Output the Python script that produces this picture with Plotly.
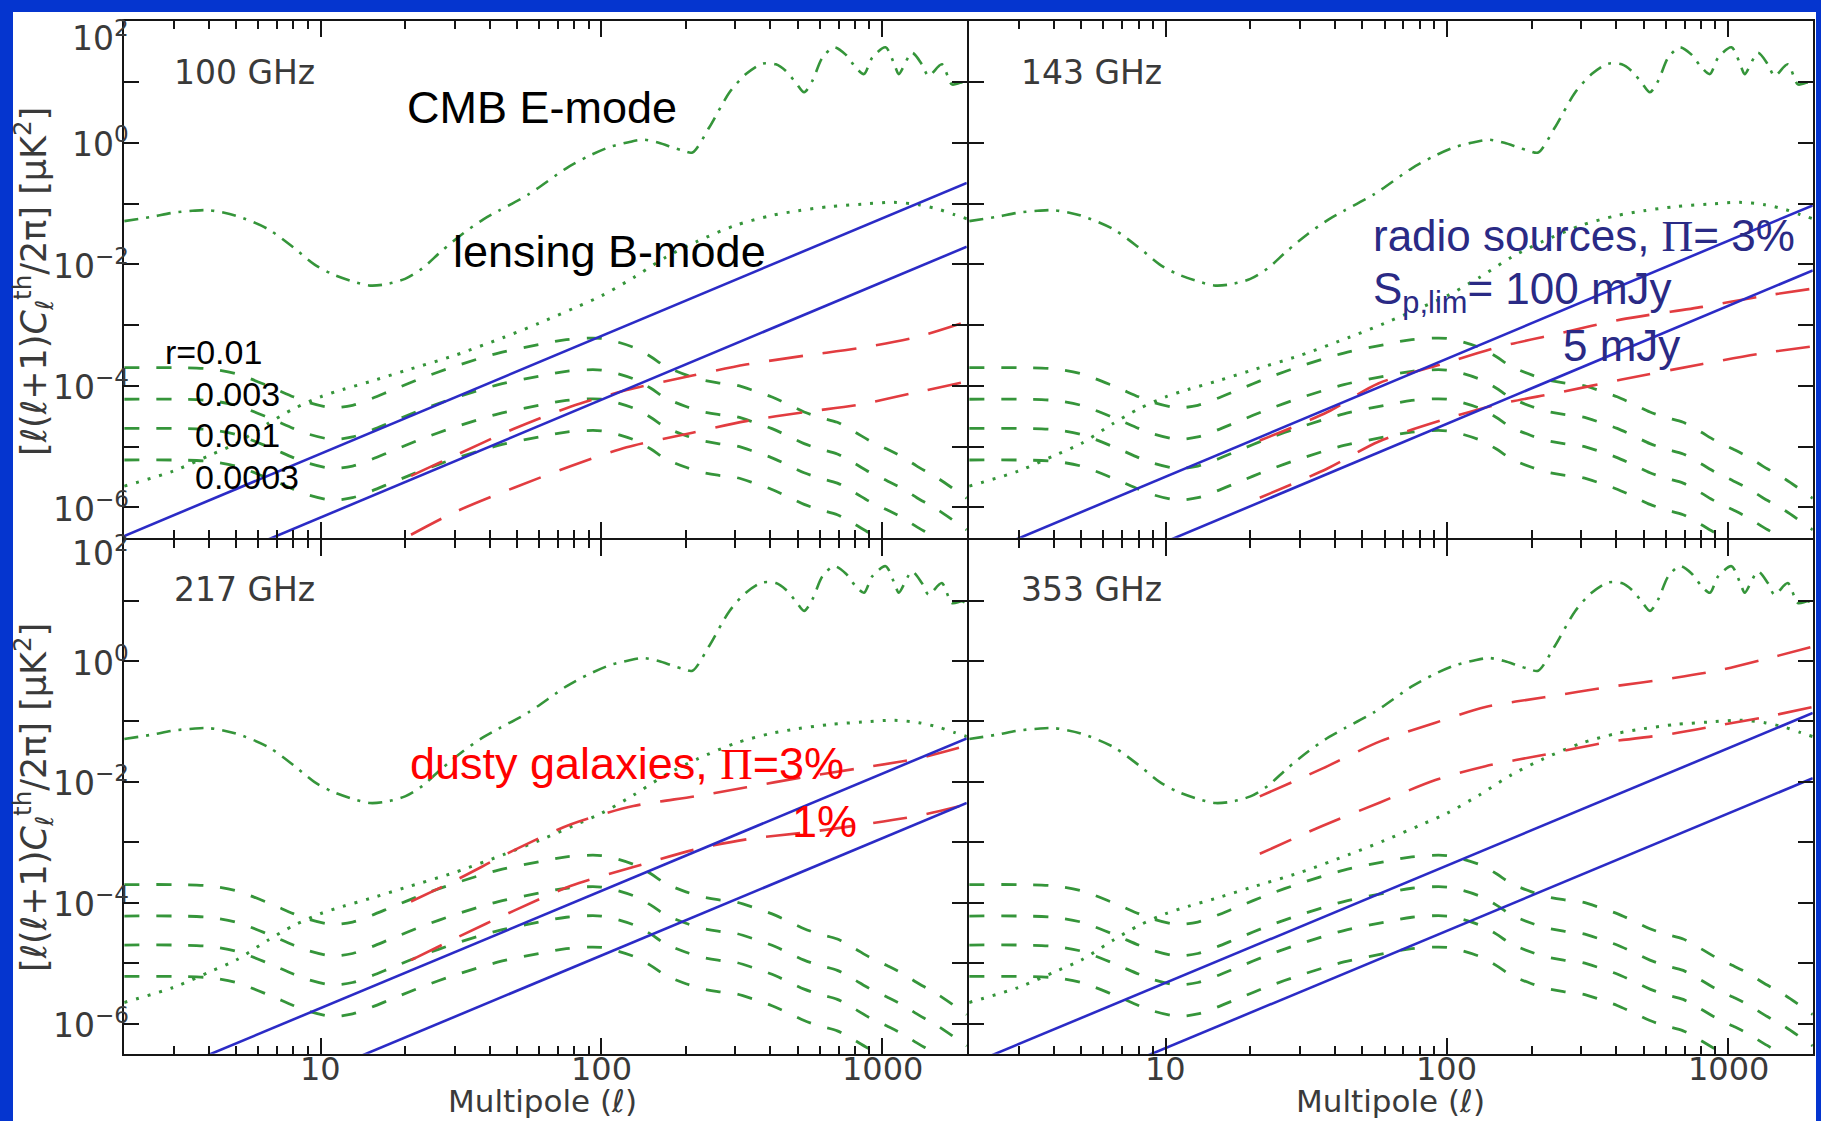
import math
import plotly.graph_objects as go

W, H = 1821, 1121

# ---------------- data (log10 of l(l+1)C_l/2pi in uK^2) ----------------
ell_E = [2, 2.5, 3, 3.5, 4, 5, 6.5, 8, 9.5, 11, 13, 15, 17, 20, 23, 27, 32, 38, 43, 55, 75, 90,
         107, 125, 141, 160, 180, 195, 211, 242, 286, 327, 374, 418, 454, 492, 527, 564, 612, 674,
         741, 804, 861, 921, 1028, 1114, 1145, 1276, 1384, 1462, 1630, 1770, 1919, 2000]
log_E = [-1.29, -1.22, -1.15, -1.12, -1.11, -1.20, -1.42, -1.72, -2.00, -2.16, -2.28, -2.35, -2.33,
         -2.24, -2.07, -1.78, -1.50, -1.26, -1.12, -0.85, -0.42, -0.22, -0.07, 0.01, 0.05, 0.00,
         -0.08, -0.13, -0.16, 0.25, 0.83, 1.13, 1.30, 1.29, 1.18, 0.99, 0.83, 1.02, 1.40, 1.57,
         1.45, 1.24, 1.13, 1.40, 1.57, 1.24, 1.13, 1.48, 1.29, 1.10, 1.29, 0.96, 0.99, 0.95]

ell_lens = [2, 3, 4, 5, 6.5, 8, 10, 12, 15, 20, 30, 45, 60, 80, 100, 130, 170, 220, 300, 400, 500,
            650, 850, 1100, 1350, 1600, 1800, 2000]
log_lens = [-5.65, -5.40, -5.15, -4.95, -4.62, -4.38, -4.18, -4.06, -3.93, -3.75, -3.50, -3.20,
            -2.97, -2.72, -2.52, -2.22, -1.88, -1.62, -1.36, -1.20, -1.12, -1.05, -1.01, -0.98,
            -1.02, -1.10, -1.18, -1.25]

ell_B = [2, 3, 4, 5, 6.5, 8, 9, 11, 13, 15, 18, 23, 30, 43, 60, 75, 100, 131, 150, 169, 200, 227,
         260, 303, 350, 403, 460, 527, 600, 692, 800, 900, 1040, 1180, 1328, 1460, 1603, 1800, 2000]
log_B_r0p01 = [-3.70, -3.70, -3.72, -3.80, -4.00, -4.18, -4.27, -4.36, -4.32, -4.22, -4.07, -3.87,
               -3.68, -3.46, -3.32, -3.24, -3.22, -3.37, -3.52, -3.68, -3.82, -3.90, -3.95, -3.99,
               -4.08, -4.18, -4.30, -4.43, -4.52, -4.60, -4.76, -4.90, -5.04, -5.17, -5.32, -5.43,
               -5.54, -5.70, -5.85]
log_B_r0p003 = [-4.22, -4.22, -4.24, -4.32, -4.52, -4.70, -4.79, -4.88, -4.84, -4.74, -4.59, -4.39,
                -4.20, -3.98, -3.84, -3.76, -3.74, -3.89, -4.04, -4.20, -4.34, -4.42, -4.47, -4.51,
                -4.60, -4.70, -4.82, -4.95, -5.04, -5.12, -5.28, -5.42, -5.56, -5.69, -5.84, -5.95,
                -6.06, -6.22, -6.37]
log_B_r0p001 = [-4.70, -4.70, -4.72, -4.80, -5.00, -5.18, -5.27, -5.36, -5.32, -5.22, -5.07, -4.87,
                -4.68, -4.46, -4.32, -4.24, -4.22, -4.37, -4.52, -4.68, -4.82, -4.90, -4.95, -4.99,
                -5.08, -5.18, -5.30, -5.43, -5.52, -5.60, -5.76, -5.90, -6.04, -6.17, -6.32, -6.43,
                -6.54, -6.70, -6.85]
log_B_r0p0003 = [-5.22, -5.22, -5.24, -5.32, -5.52, -5.70, -5.79, -5.88, -5.84, -5.74, -5.59, -5.39,
                 -5.20, -4.98, -4.84, -4.76, -4.74, -4.89, -5.04, -5.20, -5.34, -5.42, -5.47, -5.51,
                 -5.60, -5.70, -5.82, -5.95, -6.04, -6.12, -6.28, -6.42, -6.56, -6.69, -6.84, -6.95,
                 -7.06, -7.22, -7.37]

# radio sources (Poisson, straight lines): values at l = 2 and l = 2000
ell_radio = [2, 2000]
radio_100 = {"100mJy": [-6.47, -0.66], "5mJy": [-7.52, -1.71]}
radio_143 = {"100mJy": [-6.85, -1.03], "5mJy": [-7.92, -2.10]}
radio_217 = {"100mJy": [-7.10, -1.28], "5mJy": [-8.17, -2.35]}
radio_353 = {"100mJy": [-6.68, -0.86], "5mJy": [-7.76, -1.94]}

# dusty galaxies (Pi = 3% and 1%)
ell_dust_100 = [21, 30, 48.6, 78, 123, 211, 327, 535, 826, 1313, 2000]
dust_100 = {"3%": [-5.48, -5.15, -4.71, -4.34, -4.07, -3.83, -3.65, -3.50, -3.38, -3.20, -2.94],
            "1%": [-6.45, -6.08, -5.68, -5.32, -5.01, -4.77, -4.58, -4.43, -4.31, -4.11, -3.93]}
ell_dust_143 = [21.6, 37.6, 57, 95, 150, 250, 414, 811, 1300, 2000]
dust_143 = {"3%": [-4.90, -4.43, -3.96, -3.65, -3.37, -3.14, -2.91, -2.70, -2.53, -2.40],
            "1%": [-5.84, -5.36, -4.92, -4.57, -4.31, -4.11, -3.90, -3.64, -3.47, -3.35]}
ell_dust_217 = [21, 30.5, 48.9, 78, 130, 215, 329, 526, 815, 1344, 2000]
dust_217 = {"3%": [-3.98, -3.62, -3.13, -2.70, -2.40, -2.24, -2.09, -1.92, -1.78, -1.61, -1.40],
            "1%": [-4.95, -4.58, -4.13, -3.72, -3.41, -3.12, -2.95, -2.84, -2.72, -2.56, -2.37]}
ell_dust_353 = [21.6, 36, 57.8, 91, 137, 222, 376, 640, 937, 1374, 2000]
dust_353 = {"3%": [-2.24, -1.78, -1.33, -1.02, -0.76, -0.60, -0.43, -0.28, -0.15, 0.04, 0.24],
            "1%": [-3.19, -2.73, -2.34, -1.97, -1.74, -1.55, -1.34, -1.20, -1.06, -0.92, -0.76]}

panel_labels = ["100 GHz", "143 GHz", "217 GHz", "353 GHz"]
y_tick_vals = [1e-6, 1e-4, 1e-2, 1e0, 1e2]
y_tick_text = ["10<sup>−6</sup>", "10<sup>−4</sup>", "10<sup>−2</sup>", "10<sup>0</sup>", "10<sup>2</sup>"]
y_minor_vals = [1e-5, 1e-3, 1e-1, 1e1]
x_tick_vals = [10, 100, 1000]
x_tick_text = ["10", "100", "1000"]
x_minor_vals = [2, 3, 4, 5, 6, 7, 8, 9, 20, 30, 40, 50, 60, 70, 80, 90,
                200, 300, 400, 500, 600, 700, 800, 900, 2000]

# ---------------- styling ----------------
GREEN = "#35953a"
RED = "#e23c40"
BLUE = "#2b2bc6"
AX = "#151515"
TXT = "#3a3a3a"
TICKFONT = "DejaVu Sans"
LW = 2.4


def pl(v):
    return [10 ** a for a in v]


def px(x, y):
    return x / W, 1 - y / H


fig = go.Figure()

panels = [
    dict(xa="x", ya="y", radio=radio_100, ell_d=ell_dust_100, dust=dust_100),
    dict(xa="x2", ya="y2", radio=radio_143, ell_d=ell_dust_143, dust=dust_143),
    dict(xa="x3", ya="y3", radio=radio_217, ell_d=ell_dust_217, dust=dust_217),
    dict(xa="x4", ya="y4", radio=radio_353, ell_d=ell_dust_353, dust=dust_353),
]

for p in panels:
    common = dict(xaxis=p["xa"], yaxis=p["ya"], mode="lines", showlegend=False, hoverinfo="skip")
    fig.add_trace(go.Scatter(x=ell_E, y=pl(log_E), line=dict(color=GREEN, width=2.6,
                             dash="14px,8px,3px,8px", shape="spline", smoothing=0.8), **common))
    fig.add_trace(go.Scatter(x=ell_lens, y=pl(log_lens), line=dict(color=GREEN, width=3,
                             dash="3px,9px", shape="spline", smoothing=0.8), **common))
    for arr in (log_B_r0p01, log_B_r0p003, log_B_r0p001, log_B_r0p0003):
        fig.add_trace(go.Scatter(x=ell_B, y=pl(arr), line=dict(color=GREEN, width=2.8,
                                 dash="15px,17px", shape="spline", smoothing=0.8), **common))
    for key in ("3%", "1%"):
        fig.add_trace(go.Scatter(x=p["ell_d"], y=pl(p["dust"][key]), line=dict(color=RED, width=2.6,
                                 dash="34px,20px", shape="spline", smoothing=0.8), **common))
    for key in ("100mJy", "5mJy"):
        fig.add_trace(go.Scatter(x=ell_radio, y=pl(p["radio"][key]),
                                 line=dict(color=BLUE, width=2.6), **common))

# ---------------- axes ----------------
hw = LW / 2
xl = [(123 + hw) / W, (968 - hw) / W]
xr = [(968 + hw) / W, (1814 - hw) / W]
yt = [1 - (539 - hw) / H, 1 - (20 + hw) / H]
yb = [1 - (1055 - hw) / H, 1 - (539 + hw) / H]

xrange = [0.30103, 3.30103]
yrange = [-6.5, 2.0]


def xaxis(domain, anchor):
    return dict(type="log", range=xrange, domain=domain, anchor=anchor, automargin=False,
                showgrid=False, zeroline=False, showline=True, linecolor=AX, linewidth=LW,
                mirror="ticks", ticks="inside", ticklen=16, tickwidth=2, tickcolor=AX,
                tickmode="array", tickvals=x_tick_vals, showticklabels=False,
                minor=dict(ticks="inside", ticklen=8, tickwidth=2, tickcolor=AX,
                           tickmode="array", tickvals=x_minor_vals, showgrid=False))


def yaxis(domain, anchor):
    return dict(type="log", range=yrange, domain=domain, anchor=anchor, automargin=False,
                showgrid=False, zeroline=False, showline=True, linecolor=AX, linewidth=LW,
                mirror="ticks", ticks="inside", ticklen=15, tickwidth=2, tickcolor=AX,
                tickmode="array", tickvals=y_tick_vals, showticklabels=False,
                minor=dict(ticks="inside", ticklen=15, tickwidth=2, tickcolor=AX,
                           tickmode="array", tickvals=y_minor_vals, showgrid=False))


fig.update_layout(
    template="none",
    width=W, height=H,
    margin=dict(l=0, r=0, t=0, b=0, pad=0, autoexpand=False),
    paper_bgcolor="white", plot_bgcolor="white",
    xaxis=xaxis(xl, "y"), yaxis=yaxis(yt, "x"),
    xaxis2=xaxis(xr, "y2"), yaxis2=yaxis(yt, "x2"),
    xaxis3=xaxis(xl, "y3"), yaxis3=yaxis(yb, "x3"),
    xaxis4=xaxis(xr, "y4"), yaxis4=yaxis(yb, "x4"),
)

# ---------------- text ----------------
ann = []


def add_text(text, x, y, size, color, family, xanchor="left", angle=0):
    ax_, ay_ = px(x, y)
    ann.append(dict(text=text, x=ax_, y=ay_, xref="paper", yref="paper", showarrow=False,
                    xanchor=xanchor, yanchor="middle", textangle=angle,
                    font=dict(size=size, color=color, family=family)))


# y tick labels (left panels), placed on the axis scale
for yref in ("y", "y3"):
    for v, t in zip(y_tick_vals, y_tick_text):
        lv = math.log10(v)
        shift = 0
        if lv == 2:
            shift = -15 if yref == "y" else -11
        ann.append(dict(text=t, xref="paper", x=131 / W, xanchor="right",
                        yref=yref, y=lv, yanchor="middle", yshift=shift, showarrow=False,
                        font=dict(size=33, color=TXT, family=TICKFONT)))

# x tick labels (bottom panels)
for xref in ("x3", "x4"):
    for v, t in zip(x_tick_vals, x_tick_text):
        ann.append(dict(text=t, xref=xref, x=math.log10(v), xanchor="center",
                        yref="paper", y=1 - 1069 / H, yanchor="middle", showarrow=False,
                        font=dict(size=32, color=TXT, family=TICKFONT)))

for lab, (x, y) in zip(panel_labels, [(172, 72), (1019, 72), (172, 589), (1019, 589)]):
    add_text(lab, x, y, 33, TXT, TICKFONT)

ytitle = ("[<i>ℓ</i>(<i>ℓ</i>+1)<i>C</i><sub><i>ℓ</i></sub><sup>th</sup>/2π] [μK<sup>2</sup>]")
add_text(ytitle, 33, 282, 35, TXT, TICKFONT, xanchor="center", angle=-90)
add_text(ytitle, 33, 798, 35, TXT, TICKFONT, xanchor="center", angle=-90)
add_text("Multipole (<i>ℓ</i>)", 542, 1101, 31, TXT, TICKFONT, xanchor="center")
add_text("Multipole (<i>ℓ</i>)", 1390, 1101, 31, TXT, TICKFONT, xanchor="center")

SANS = "Liberation Sans, Arial, sans-serif"
PI = "<span style='font-family:Liberation Serif, Times New Roman, serif'>Π</span>"
add_text("CMB E-mode", 405, 108, 45, "black", SANS)
add_text("lensing B-mode", 451, 252, 45, "black", SANS)
add_text("r=0.01", 163, 352, 34, "black", SANS)
add_text("0.003", 193, 394, 34, "black", SANS)
add_text("0.001", 193, 435, 34, "black", SANS)
add_text("0.0003", 193, 477, 34, "black", SANS)

NAVY = "#2a2a85"
add_text("radio sources, " + PI + "= 3%", 1371, 236, 44, NAVY, SANS)
add_text("S<sub>p,lim</sub>= 100 mJy", 1371, 292, 44, NAVY, SANS)
add_text("5 mJy", 1561, 345, 44, NAVY, SANS)

add_text("dusty galaxies, " + PI + "=3%", 408, 763, 45, "#ff0000", SANS)
add_text("1%", 790, 821, 45, "#ff0000", SANS)

fig.update_layout(annotations=ann)

# blue frame
BLUE_FRAME = "#0535cf"
fig.update_layout(shapes=[
    dict(type="rect", xref="paper", yref="paper", x0=0, x1=13 / W, y0=0, y1=1,
         fillcolor=BLUE_FRAME, line=dict(width=0), layer="above"),
    dict(type="rect", xref="paper", yref="paper", x0=0, x1=1, y0=1 - 12 / H, y1=1,
         fillcolor=BLUE_FRAME, line=dict(width=0), layer="above"),
    dict(type="rect", xref="paper", yref="paper", x0=1816 / W, x1=1, y0=0, y1=1,
         fillcolor=BLUE_FRAME, line=dict(width=0), layer="above"),
])

fig.write_html(
    "out.html",
    config={"displayModeBar": False, "staticPlot": True},
    post_script="document.body.style.margin='0px';document.body.style.padding='0px';"
                "document.body.style.overflow='hidden';",
)
